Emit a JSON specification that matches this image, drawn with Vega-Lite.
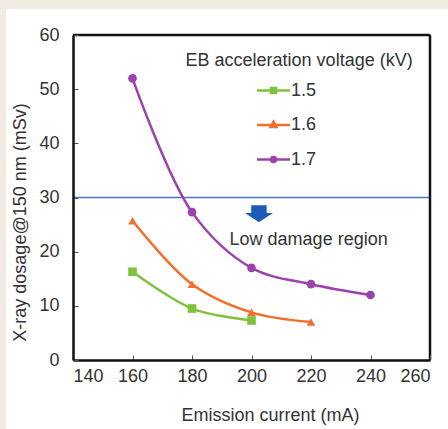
{
  "$schema": "https://vega.github.io/schema/vega-lite/v6.json",
  "width": 357,
  "height": 325,
  "autosize": {"type": "none"},
  "padding": {"left": 73, "top": 35, "right": 18, "bottom": 69},
  "background": "#f1ece1",
  "config": {
    "view": {"stroke": null},
    "font": "Liberation Sans"
  },
  "datasets": {
    "series": [
      {"kV": "1.5", "current": 160, "dose": 16.3},
      {"kV": "1.5", "current": 180, "dose": 9.5},
      {"kV": "1.5", "current": 200, "dose": 7.3},
      {"kV": "1.6", "current": 160, "dose": 25.7},
      {"kV": "1.6", "current": 180, "dose": 14.0},
      {"kV": "1.6", "current": 200, "dose": 8.8},
      {"kV": "1.6", "current": 220, "dose": 7.0},
      {"kV": "1.7", "current": 160, "dose": 52.0},
      {"kV": "1.7", "current": 180, "dose": 27.3},
      {"kV": "1.7", "current": 200, "dose": 17.0},
      {"kV": "1.7", "current": 220, "dose": 14.0},
      {"kV": "1.7", "current": 240, "dose": 12.0}
    ],
    "notes": [
      {"label": "EB acceleration voltage (kV)", "current": 216, "dose": 55.2},
      {"label": "Low damage region", "current": 219.2, "dose": 22.2}
    ],
    "marker": [
      {"what": "low damage arrow", "current": 202.5, "dose": 27.0}
    ],
    "threshold": [
      {"what": "low damage threshold", "dose": 30}
    ]
  },
  "layer": [
    {
      "data": {"name": "marker"},
      "mark": {"type": "rect", "fill": "white"},
      "encoding": {
        "x": {"datum": 117.5, "type": "quantitative", "scale": {"domain": [140, 260], "nice": false, "zero": false}},
        "x2": {"datum": 275},
        "y": {"datum": -20, "type": "quantitative", "scale": {"domain": [0, 60], "nice": false}},
        "y2": {"datum": 64.8}
      }
    },
    {
      "data": {"name": "threshold"},
      "mark": {"type": "rule", "color": "#4a78c4", "strokeWidth": 1.5},
      "encoding": {"y": {"field": "dose", "type": "quantitative"}}
    },
    {
      "data": {"name": "series"},
      "mark": {"type": "line", "interpolate": "catmull-rom", "strokeWidth": 2.5},
      "encoding": {
        "x": {
          "field": "current", "type": "quantitative",
          "scale": {"domain": [140, 260], "nice": false, "zero": false},
          "axis": {
            "values": [140, 160, 180, 200, 220, 240, 260],
            "title": "Emission current (mA)",
            "titleFontSize": 18, "titleFontWeight": "normal", "titleColor": "#333",
            "titleX": 197, "titleY": 55, "titleBaseline": "middle",
            "labelFontSize": 18, "labelColor": "#333",
            "labelPadding": 12, "tickSize": -5, "tickColor": "#555", "tickWidth": 1,
            "domainColor": "#111", "domainWidth": 2.5,
            "grid": false, "zindex": 1
          }
        },
        "y": {
          "field": "dose", "type": "quantitative",
          "scale": {"domain": [0, 60], "nice": false},
          "axis": {
            "values": [0, 10, 20, 30, 40, 50, 60],
            "title": "X-ray dosage@150 nm (mSv)",
            "titleFontSize": 18, "titleFontWeight": "normal", "titleColor": "#333",
            "titleX": -53, "titleY": 187, "titleBaseline": "middle",
            "labelFontSize": 18, "labelColor": "#333",
            "labelPadding": 19, "tickSize": -5, "tickColor": "#555", "tickWidth": 1,
            "domainColor": "#111", "domainWidth": 2.5,
            "grid": false, "zindex": 1
          }
        },
        "color": {
          "field": "kV", "type": "nominal",
          "scale": {"range": ["#7fc23c", "#f0702c", "#9b42ae"]},
          "legend": null
        }
      }
    },
    {
      "data": {"name": "marker"},
      "mark": {"type": "rule", "color": "#111", "strokeWidth": 2.5},
      "encoding": {"y": {"datum": 60, "type": "quantitative"}}
    },
    {
      "data": {"name": "marker"},
      "mark": {"type": "rule", "color": "#111", "strokeWidth": 2.5},
      "encoding": {"x": {"datum": 260, "type": "quantitative"}}
    },
    {
      "data": {"name": "series"},
      "transform": [{"filter": "datum.kV == '1.5'"}],
      "mark": {"type": "point", "shape": "square", "filled": true, "opacity": 1, "size": 75},
      "encoding": {
        "x": {"field": "current", "type": "quantitative"},
        "y": {"field": "dose", "type": "quantitative"},
        "color": {"field": "kV", "type": "nominal", "legend": null}
      }
    },
    {
      "data": {"name": "series"},
      "transform": [{"filter": "datum.kV == '1.6'"}],
      "mark": {"type": "point", "shape": "triangle-up", "filled": true, "opacity": 1, "size": 75},
      "encoding": {
        "x": {"field": "current", "type": "quantitative"},
        "y": {"field": "dose", "type": "quantitative"},
        "color": {"field": "kV", "type": "nominal", "legend": null}
      }
    },
    {
      "data": {"name": "series"},
      "transform": [{"filter": "datum.kV == '1.7'"}],
      "mark": {"type": "point", "shape": "circle", "filled": true, "opacity": 1, "size": 75},
      "encoding": {
        "x": {"field": "current", "type": "quantitative"},
        "y": {"field": "dose", "type": "quantitative"},
        "color": {"field": "kV", "type": "nominal", "legend": null}
      }
    },
    {
      "data": {"name": "series"},
      "mark": {"type": "point", "filled": true, "opacity": 0, "strokeWidth": 2.5},
      "encoding": {
        "x": {"field": "current", "type": "quantitative"},
        "y": {"field": "dose", "type": "quantitative"},
        "fill": {
          "field": "kV", "type": "nominal",
          "scale": {"domain": ["1.5", "1.6", "1.7"], "range": ["#7fc23c", "#f0702c", "#9b42ae"]},
          "legend": {
            "orient": "none", "legendX": 184, "legendY": 39, "title": null,
            "padding": 0, "rowPadding": 8.5, "symbolSize": 900, "symbolStrokeWidth": 2.5,
            "symbolOpacity": 1, "labelFontSize": 18, "labelColor": "#333", "labelOffset": 1
          }
        },
        "stroke": {
          "field": "kV", "type": "nominal",
          "scale": {"domain": ["1.5", "1.6", "1.7"], "range": ["#7fc23c", "#f0702c", "#9b42ae"]},
          "legend": {
            "orient": "none", "legendX": 184, "legendY": 39, "title": null,
            "padding": 0, "rowPadding": 8.5, "symbolSize": 900, "symbolStrokeWidth": 2.5,
            "symbolOpacity": 1, "labelFontSize": 18, "labelColor": "#333", "labelOffset": 1
          }
        },
        "shape": {
          "field": "kV", "type": "nominal",
          "scale": {
            "domain": ["1.5", "1.6", "1.7"],
            "range": [
              "M-1.1,0H1.1M-0.17,-0.17H0.17V0.17H-0.17Z",
              "M-1.1,0H1.1M0,-0.22L0.2,0.14H-0.2Z",
              "M-1.1,0H1.1M0.17,0A0.17,0.17,0,1,1,-0.17,0A0.17,0.17,0,1,1,0.17,0Z"
            ]
          },
          "legend": {
            "orient": "none", "legendX": 184, "legendY": 39, "title": null,
            "padding": 0, "rowPadding": 8.5, "symbolSize": 900, "symbolStrokeWidth": 2.5,
            "symbolOpacity": 1, "labelFontSize": 18, "labelColor": "#333", "labelOffset": 1
          }
        }
      }
    },
    {
      "data": {"name": "notes"},
      "mark": {"type": "text", "fontSize": 18, "color": "#333", "align": "center", "baseline": "middle"},
      "encoding": {
        "x": {"field": "current", "type": "quantitative"},
        "y": {"field": "dose", "type": "quantitative"},
        "text": {"field": "label"}
      }
    },
    {
      "data": {"name": "marker"},
      "mark": {"type": "point", "shape": "M-0.55,-0.6H0.55V-0.05H1L0,0.6L-1,-0.05H-0.55Z", "filled": true, "opacity": 1, "color": "#1f5cb8", "size": 784},
      "encoding": {
        "x": {"field": "current", "type": "quantitative"},
        "y": {"field": "dose", "type": "quantitative"}
      }
    }
  ]
}
